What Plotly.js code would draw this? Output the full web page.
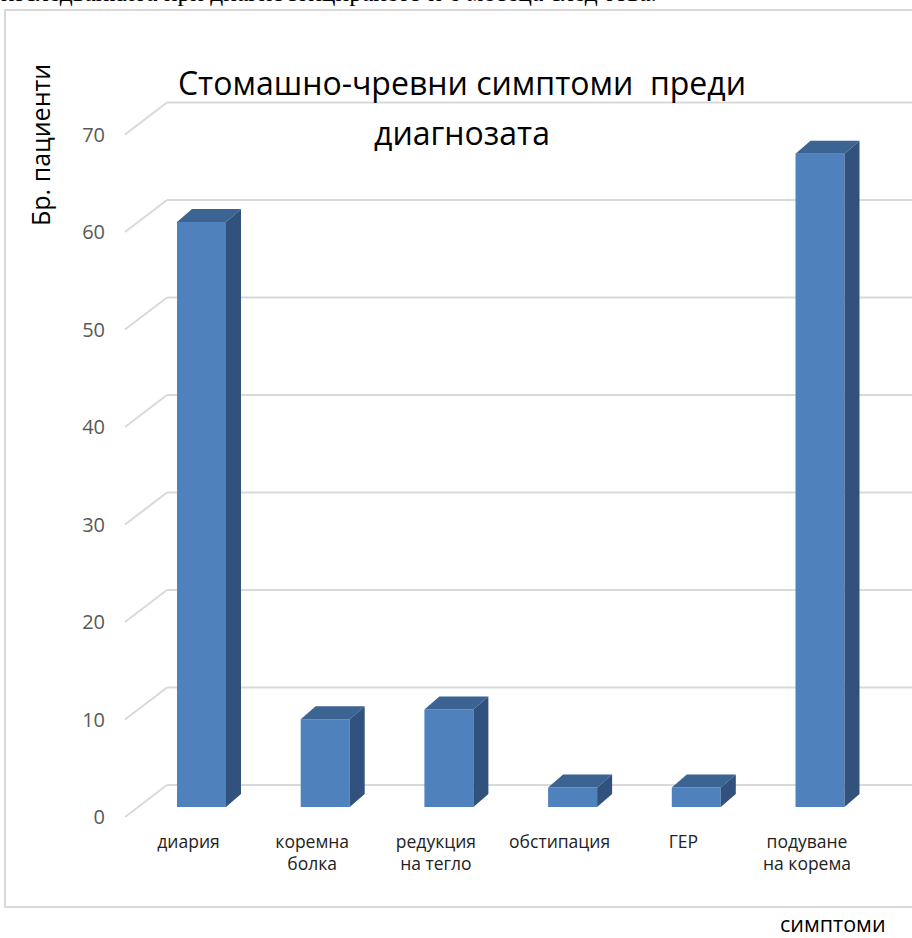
<!DOCTYPE html>
<html>
<head>
<meta charset="utf-8">
<script src="https://cdn.plot.ly/plotly-3.0.1.min.js"></script>
<style>html,body{margin:0;padding:0;background:#fff;}#chart{width:912px;height:938px;}</style>
</head>
<body>
<div id="chart"></div>
<script>
// ---- data ----
const categories = ['диария', 'коремна<br>болка', 'редукция<br>на тегло', 'обстипация', 'ГЕР', 'подуване<br>на корема'];
const patients = [60, 9, 10, 2, 2, 67];
const yTicks = [0, 10, 20, 30, 40, 50, 60, 70];
const chartTitle = 'Стомашно-чревни симптоми\u00a0 преди';
const chartTitle2 = 'диагнозата';
const yTitle = 'Бр. пациенти';
const xTitle = 'симптоми';
const aboveText = 'изследванията при диагностицирането и 6 месеца след това.';

// ---- geometry (pixels) ----
const W = 912, H = 938;
const M = {l: 110, r: 0, t: 0, b: 110};
const plotW = W - M.l - M.r, plotH = H - M.t - M.b;
const cat0Px = 201.5, pxPerCat = 123.7;   // bar front-face centre of first category
const zeroPx = 807, pxPerUnit = 9.75;      // bar front-face baseline
const xRange = [(M.l - cat0Px) / pxPerCat, (W - M.r - cat0Px) / pxPerCat];
const yRange = [(zeroPx - (M.t + plotH)) / pxPerUnit, (zeroPx - M.t) / pxPerUnit];
const dX = px => px / pxPerCat, dY = px => px / pxPerUnit;
const px2x = px => (px - cat0Px) / pxPerCat;
const paperX = px => (px - M.l) / plotW;
const paperY = py => (M.t + plotH - py) / plotH;

const barHalf = dX(24.5);
const depthX = dX(15), depthY = dY(13);

const gridColor = '#d9d9d9';
const shapes = [];
yTicks.forEach(v => {
  const fx = px2x(125), fy = v - dY(10);
  const bx = px2x(167), by = v + dY(22);
  shapes.push({type: 'line', xref: 'x', yref: 'y', x0: fx, y0: fy, x1: bx, y1: by, line: {color: gridColor, width: 2}, layer: 'below'});
  shapes.push({type: 'line', xref: 'x', yref: 'y', x0: bx, y0: by, x1: xRange[1] + 0.2, y1: by, line: {color: gridColor, width: 2}, layer: 'below'});
});
// chart frame
shapes.push({type: 'rect', xref: 'paper', yref: 'paper', x0: paperX(5), x1: paperX(W + 20), y0: paperY(907), y1: paperY(10), line: {color: '#d9d9d9', width: 2}, fillcolor: 'rgba(0,0,0,0)', layer: 'below'});

const traces = [];
traces.push({
  type: 'bar', x: categories.map((c, i) => i), y: patients, width: barHalf * 2,
  marker: {color: '#4F81BD', line: {width: 0}}, hoverinfo: 'skip', showlegend: false
});
patients.forEach((v, i) => {
  traces.push({
    type: 'scatter', mode: 'lines', fill: 'toself', fillcolor: '#3B6493', line: {width: 0, color: '#3B6493'},
    x: [i - barHalf, i + barHalf, i + barHalf + depthX, i - barHalf + depthX, i - barHalf],
    y: [v, v, v + depthY, v + depthY, v], hoverinfo: 'skip', showlegend: false
  });
  traces.push({
    type: 'scatter', mode: 'lines', fill: 'toself', fillcolor: '#31527D', line: {width: 0, color: '#31527D'},
    x: [i + barHalf, i + barHalf + depthX, i + barHalf + depthX, i + barHalf, i + barHalf],
    y: [0, depthY, v + depthY, v, 0], hoverinfo: 'skip', showlegend: false
  });
});

const FONT = '"Open Sans", Lato, sans-serif';
const layout = {
  width: W, height: H, margin: M,
  paper_bgcolor: '#fff', plot_bgcolor: 'rgba(0,0,0,0)',
  showlegend: false,
  font: {family: FONT, color: '#000'},
  title: {text: chartTitle, x: 462 / W, xanchor: 'center', xref: 'container', y: 1 - 84 / H, yanchor: 'middle', yref: 'container', font: {size: 32, color: '#000', family: FONT}},
  xaxis: {
    range: xRange, showgrid: false, zeroline: false, showline: false, ticks: '',
    tickmode: 'array', tickvals: categories.map((c, i) => i), ticktext: categories,
    tickfont: {size: 17.5, color: '#222', family: FONT}, ticklabelshift: -13, ticklabelstandoff: 1, fixedrange: true
  },
  yaxis: {
    range: yRange, showgrid: false, zeroline: false, showline: false, ticks: '',
    tickmode: 'array', tickvals: yTicks, ticktext: yTicks.map(String),
    tickfont: {size: 20, color: '#595959', family: FONT}, ticklabelshift: 10, ticklabelstandoff: 4, fixedrange: true
  },
  shapes: shapes,
  annotations: [
    {text: chartTitle2, xref: 'paper', yref: 'paper', x: paperX(462), y: paperY(132), xanchor: 'center', yanchor: 'middle', showarrow: false, font: {size: 32, color: '#000', family: FONT}},
    {text: yTitle, textangle: -90, xref: 'paper', yref: 'paper', x: paperX(40), y: paperY(145), xanchor: 'center', yanchor: 'middle', showarrow: false, font: {size: 25, color: '#000', family: FONT}},
    {text: xTitle, xref: 'paper', yref: 'paper', x: paperX(833), y: paperY(923), xanchor: 'center', yanchor: 'middle', showarrow: false, font: {size: 21.5, color: '#000', family: FONT}},
    {text: aboveText, xref: 'paper', yref: 'paper', x: paperX(-1), y: paperY(-7), xanchor: 'left', yanchor: 'middle', showarrow: false, font: {size: 25.5, color: '#000', family: '"Liberation Serif", serif'}}
  ]
};

Plotly.newPlot('chart', traces, layout, {displayModeBar: false, staticPlot: true});
</script>
</body>
</html>
